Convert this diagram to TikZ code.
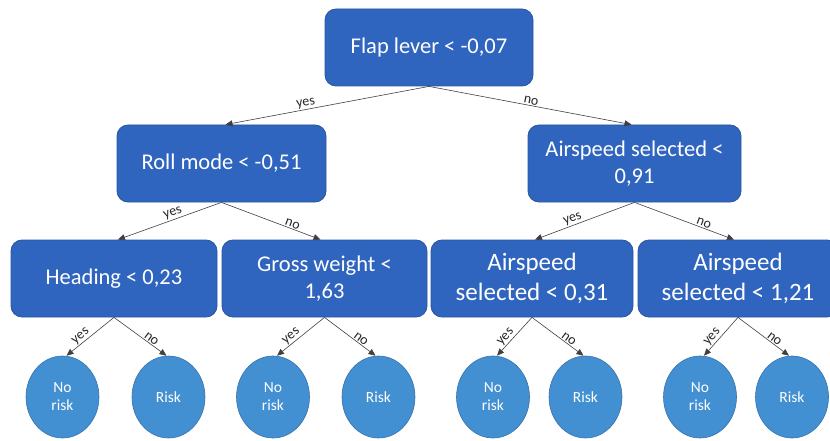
\documentclass[tikz,border=0pt]{standalone}
\usepackage{fontspec}
\setmainfont{Carlito}
\usetikzlibrary{arrows.meta,shapes.geometric}
\definecolor{boxblue}{HTML}{2F65BF}
\definecolor{boxedge}{HTML}{2B559C}
\definecolor{leafblue}{HTML}{4290D2}
\definecolor{leafedge}{HTML}{3872AA}
\definecolor{linegray}{HTML}{404040}
\begin{document}
\begin{tikzpicture}[x=1pt,y=-1pt,
  decision/.style={draw=boxedge, line width=0.8pt, fill=boxblue,
    rounded corners=11pt, text=white, align=center, inner sep=0pt,
    minimum width=#1, minimum height=77pt,
    font=\fontsize{22.5}{27}\selectfont},
  bigdecision/.style={decision=#1, font=\fontsize{25}{30}\selectfont},
  leaf/.style={ellipse, draw=leafedge, line width=0.6pt, fill=leafblue,
    text=white, align=center, inner sep=0pt,
    minimum width=73pt, minimum height=82pt,
    font=\fontsize{15.5}{18}\selectfont},
  branch/.style={draw=linegray, line width=0.6pt,
    -{Triangle[length=7pt,width=6pt]}},
  lbl/.style={font=\fontsize{14}{16}\selectfont, text=black!85,
    sloped, above, inner sep=1pt}]

\useasboundingbox (0,0) rectangle (830,441);
\clip (0,0) rectangle (830,441);

% decision nodes
\node[decision=208pt] (root) at (429,47.5) {Flap lever < -0,07};
\node[decision=209pt] (roll) at (221.5,163.5) {Roll mode < -0,51};
\node[decision=213pt] (air91) at (634.5,163.5) {Airspeed selected <\\0,91};
\node[decision=206pt] (head) at (114,278.5) {Heading < 0,23};
\node[decision=205pt] (gross) at (324.5,278.5) {Gross weight <\\1,63};
\node[bigdecision=202pt] (air31) at (532,278.5) {Airspeed\\selected < 0,31};
\node[bigdecision=200pt] (air121) at (738,278.5) {Airspeed\\selected < 1,21};

% leaves
\node[leaf] (l1) at (62.5,397) {No\\risk};
\node[leaf] (l2) at (168.5,397) {Risk};
\node[leaf] (l3) at (273,397) {No\\risk};
\node[leaf] (l4) at (378.5,397) {Risk};
\node[leaf] (l5) at (493,397) {No\\risk};
\node[leaf] (l6) at (585.5,397) {Risk};
\node[leaf] (l7) at (700,397) {No\\risk};
\node[leaf] (l8) at (792,397) {Risk};

% branches
\draw[branch] (root.south) -- node[lbl,pos=0.6]{yes} ([xshift=4pt]roll.north);
\draw[branch] (root.south) -- node[lbl,pos=0.5]{no} ([xshift=-3pt]air91.north);

\draw[branch] (roll.south) -- node[lbl,pos=0.45]{yes} ([xshift=4pt]head.north);
\draw[branch] (roll.south) -- node[lbl,pos=0.7]{no} ([xshift=-4pt]gross.north);

\draw[branch] (air91.south) -- node[lbl,pos=0.6]{yes} ([xshift=3pt]air31.north);
\draw[branch] (air91.south) -- node[lbl,pos=0.68]{no} ([xshift=-4pt]air121.north);

\draw[branch] (head.south) -- node[lbl,pos=0.62]{yes} ([xshift=4pt]l1.north);
\draw[branch] (head.south) -- node[lbl,pos=0.66]{no} ([xshift=-2pt]l2.north);

\draw[branch] (gross.south) -- node[lbl,pos=0.62]{yes} ([xshift=4pt]l3.north);
\draw[branch] (gross.south) -- node[lbl,pos=0.66]{no} ([xshift=-3pt]l4.north);

\draw[branch] (air31.south) -- node[lbl,pos=0.62]{yes} ([xshift=4pt]l5.north);
\draw[branch] (air31.south) -- node[lbl,pos=0.66]{no} ([xshift=-2pt]l6.north);

\draw[branch] (air121.south) -- node[lbl,pos=0.62]{yes} ([xshift=4pt]l7.north);
\draw[branch] (air121.south) -- node[lbl,pos=0.66]{no} ([xshift=-3pt]l8.north);
\end{tikzpicture}
\end{document}
